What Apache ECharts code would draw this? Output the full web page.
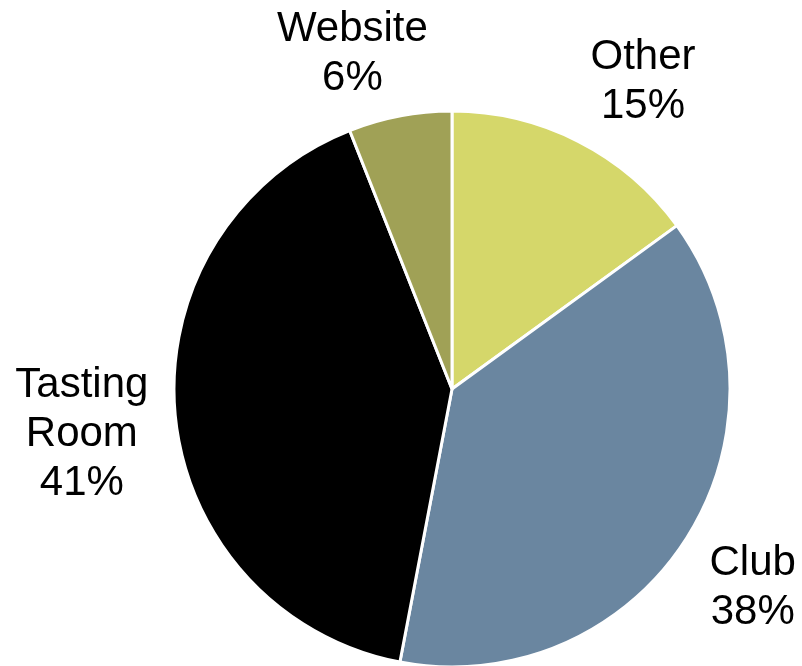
<!DOCTYPE html>
<html>
<head>
<meta charset="utf-8">
<script src="https://cdn.jsdelivr.net/npm/echarts@6/dist/echarts.min.js"></script>
<style>
  html, body { margin: 0; padding: 0; background: #ffffff; }
  #chart { width: 802px; height: 666px; }
</style>
</head>
<body>
<div id="chart"></div>
<script>
// Sales channel mix
const categories = ['Other', 'Club', 'Tasting Room', 'Website'];
const shares = [15, 38, 41, 6];
const sliceColors = ['#D5D76A', '#6A86A0', '#000000', '#A0A156'];
const labelNames = ['Other', 'Club', 'Tasting\nRoom', 'Website'];

// Pie geometry
const CX = 452, CY = 389, R = 278;
const LABEL_GAP = 27;   // distance from the rim to the label's nearest corner
const INK_INSET = 14;   // line-height padding above/below the glyphs

const total = shares.reduce((a, b) => a + b, 0);

// Mid angle of slice i, clockwise from 12 o'clock, in radians
function midAngle(i) {
  let before = 0;
  for (let k = 0; k < i; k++) before += shares[k];
  return (before + shares[i] / 2) / total * 2 * Math.PI;
}

function clamp(v) { return Math.max(-1, Math.min(1, v)); }

const chart = echarts.init(document.getElementById('chart'), null, { renderer: 'canvas' });

chart.setOption({
  backgroundColor: '#ffffff',
  animation: false,
  series: [{
    type: 'pie',
    center: [CX, CY],
    radius: [0, R],
    startAngle: 90,
    clockwise: true,
    avoidLabelOverlap: false,
    data: categories.map((name, i) => ({
      name: name,
      value: shares[i],
      itemStyle: { color: sliceColors[i] }
    })),
    itemStyle: { borderColor: '#ffffff', borderWidth: 3 },
    emphasis: { disabled: true },
    label: {
      show: true,
      position: 'outside',
      formatter: (p) => labelNames[p.dataIndex] + '\n' + p.value + '%',
      fontFamily: '"Liberation Sans", Arial, sans-serif',
      fontSize: 42,
      lineHeight: 49,
      color: '#000000'
    },
    labelLine: { show: false },
    // Place each label just off the rim along its slice's mid angle,
    // with the corner nearest the pie touching that point.
    labelLayout: function (p) {
      const a = midAngle(p.dataIndex);
      const ux = Math.sin(a), uy = -Math.cos(a);
      const d = R + LABEL_GAP;
      const hw = p.labelRect.width / 2;
      const hh = p.labelRect.height / 2 - INK_INSET;
      return {
        x: CX + ux * d + hw * clamp(ux * 3),
        y: CY + uy * d + hh * clamp(uy * 3),
        align: 'center',
        verticalAlign: 'middle'
      };
    }
  }]
});
</script>
</body>
</html>
